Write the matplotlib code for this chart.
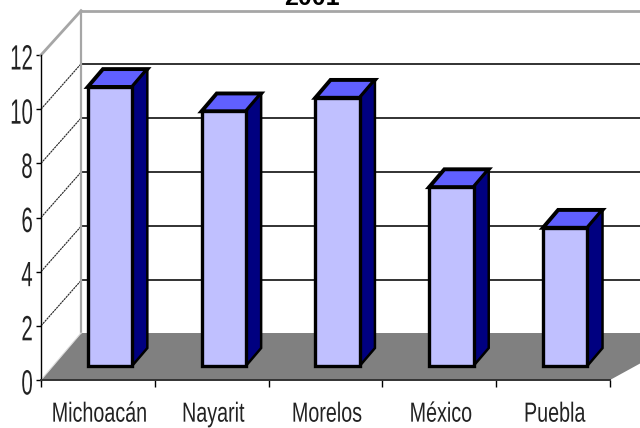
import matplotlib
matplotlib.use("Agg")
import matplotlib.pyplot as plt
from matplotlib.patches import Polygon
from matplotlib.patheffects import AbstractPathEffect
from matplotlib.transforms import Affine2D

plt.rcParams['font.family'] = ['Liberation Sans', 'DejaVu Sans']

# -----------------------------------------
# Data
# -----------------------------------------
estados = ['Michoacán', 'Nayarit', 'Morelos', 'México', 'Puebla']
valores = [10.3, 9.4, 9.9, 6.6, 5.1]
y_ticks = [0, 2, 4, 6, 8, 10, 12]
titulo = '2001'

# oblique depth of the fake 3D box, in axis units
DEPTH_X = 0.352
DEPTH_Y = 1.735
BAR_FRONT = 0.30
BAR_BACK = 0.68
BAR_WIDTH = 0.39

FRONT = '#C0C0FF'
TOP = '#6060FF'
SIDE = '#000080'
FLOOR = '#808080'
WALL = '#A6A6A6'


class StretchY(AbstractPathEffect):
    # the original text is squeezed sideways, so pull it up from the baseline
    def __init__(self, sy, dy=0):
        super().__init__()
        self.sy = sy
        self.dy = dy

    def draw_path(self, renderer, gc, tpath, affine, rgbFace=None):
        tr = Affine2D().scale(1, self.sy) + affine + Affine2D().translate(0, self.dy)
        renderer.draw_path(gc, tpath, tr, rgbFace)


def proj(x, y, d):
    return (x + d * DEPTH_X, y + d * DEPTH_Y)


fig = plt.figure(figsize=(6.4, 4.28), dpi=100)
ax = fig.add_axes([41 / 640, 48 / 428, 569 / 640, 325 / 428])
ax.set_xlim(0, len(estados))
ax.set_ylim(0, 12)
ax.patch.set_visible(False)
for s in ['top', 'right']:
    ax.spines[s].set_visible(False)
ax.spines['left'].set_linewidth(1.0)
ax.spines['bottom'].set_linewidth(1.4)
ax.spines['bottom'].set_color('#333333')

right_end = len(estados) + 0.2

# floor
floor = [proj(0, 0, 0), proj(0, 0, 1), proj(right_end + 0.2, 0, 1), proj(len(estados), 0, 0)]
ax.add_patch(Polygon(floor, closed=True, fc=FLOOR, ec='none', clip_on=False, zorder=1))

# grid lines on side wall and back wall
for t in y_ticks[1:-1]:
    x0, y0 = proj(0, t, 0)
    x1, y1 = proj(0, t, 1)
    x2, y2 = proj(right_end, t, 1)
    # back wall lines sit a touch lower in the original
    ax.plot([x0, x1], [y0, y1 - 0.06], color='#222222', lw=0.8, ls=(0, (2, 0.6)), clip_on=False, zorder=2)
    ax.plot([x1, x2], [y1 - 0.06, y2 - 0.06], color='#222222', lw=1.3, clip_on=False, zorder=2)

# wall outline
x0, y0 = proj(0, 12, 0)
x1, y1 = proj(0, 12, 1)
x2, y2 = proj(right_end, 12, 1)
xb, yb = proj(0, 0, 1)
xf, yf = proj(0, 0, 0)
ax.plot([x0, x1], [y0, y1 - 0.1], color=WALL, lw=2.0, clip_on=False, zorder=2)
ax.plot([x1, x2], [y1 - 0.1, y2 - 0.1], color=WALL, lw=2.0, clip_on=False, zorder=2)
ax.plot([x1, xb], [y1 - 0.1, yb], color=WALL, lw=1.6, clip_on=False, zorder=2)
ax.plot([xf, xb], [yf, yb], color='#DDDDDD', lw=0.8, clip_on=False, zorder=2)

# bars
for i, v in enumerate(valores):
    c = i + 0.5 + BAR_FRONT * DEPTH_X
    l = c - BAR_WIDTH / 2
    r = c + BAR_WIDTH / 2
    base = BAR_FRONT * DEPTH_Y
    dx = (BAR_BACK - BAR_FRONT) * DEPTH_X
    dy = (BAR_BACK - BAR_FRONT) * DEPTH_Y
    top = base + v
    ax.bar(c, v, BAR_WIDTH, bottom=base, color=FRONT, edgecolor='black', linewidth=2.4,
           clip_on=False, zorder=5)
    ax.add_patch(Polygon([(l, top), (l + dx, top + dy), (r + dx, top + dy), (r, top)],
                         closed=True, fc=TOP, ec='black', lw=2.8, joinstyle='miter',
                         clip_on=False, zorder=4))
    ax.add_patch(Polygon([(r, base), (r + dx, base + dy), (r + dx, top + dy), (r, top)],
                         closed=True, fc=SIDE, ec='black', lw=1.8, joinstyle='miter',
                         clip_on=False, zorder=4))

# axes ticks and labels
ax.set_yticks(y_ticks)
ax.set_yticklabels([str(t) for t in y_ticks], fontsize=14.7, color='#222222', va='baseline')
ax.tick_params(axis='y', length=3.5, width=1.0, pad=2.5)
for lab in ax.get_yticklabels():
    lab.set_path_effects([StretchY(1.72, dy=-14.5)])

ax.set_xticks(range(len(estados) + 1))
ax.set_xticklabels([])
ax.tick_params(axis='x', length=5, width=1.0)
ax.set_xticks([i + 0.515 for i in range(len(estados))], minor=True)
ax.set_xticklabels(estados, minor=True, fontsize=14.2, color='#222222', va='baseline')
ax.tick_params(axis='x', which='minor', length=0, pad=30)
for lab in ax.get_xticklabels(minor=True):
    lab.set_path_effects([StretchY(1.4)])

# title is cut by the top edge in the original
fig.text(312 / 640, 1 - 5 / 428, titulo, ha='center', va='baseline', fontsize=18,
         fontweight='bold', color='black')

fig.savefig('out.png', dpi=100)
